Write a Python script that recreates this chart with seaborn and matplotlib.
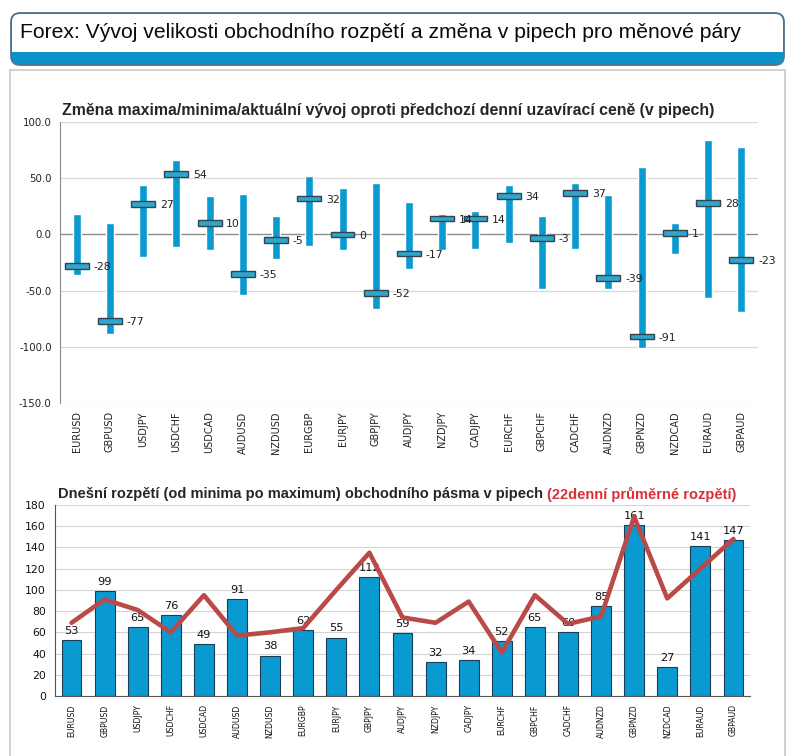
import numpy as np
import pandas as pd
import matplotlib.pyplot as plt
import seaborn as sns
from matplotlib.patches import FancyBboxPatch, Rectangle

# currency pairs
pairs = ['EURUSD', 'GBPUSD', 'USDJPY', 'USDCHF', 'USDCAD', 'AUDUSD', 'NZDUSD',
         'EURGBP', 'EURJPY', 'GBPJPY', 'AUDJPY', 'NZDJPY', 'CADJPY', 'EURCHF',
         'GBPCHF', 'CADCHF', 'AUDNZD', 'GBPNZD', 'NZDCAD', 'EURAUD', 'GBPAUD']

# change vs previous close (pips): high / low / current
high = [18, 10, 44, 66, 34, 36, 16, 52, 41, 46, 29, 18, 21, 44, 16, 46, 35, 60, 10, 84, 78]
low = [-36, -89, -20, -11, -14, -54, -22, -10, -14, -66, -31, -14, -13, -8, -49, -13, -49, -101, -17, -57, -69]
current = [-28, -77, 27, 54, 10, -35, -5, 32, 0, -52, -17, 14, 14, 34, -3, 37, -39, -91, 1, 28, -23]

# today's range and 22-day average range (pips)
day_range = [53, 99, 65, 76, 49, 91, 38, 62, 55, 112, 59, 32, 34, 52, 65, 60, 85, 161, 27, 141, 147]
avg22 = [69, 91, 81, 60, 95, 57, 60, 64, 100, 135, 74, 69, 89, 41, 95, 68, 75, 169, 92, 120, 148]

sns.set_style('white')
plt.rcParams['font.family'] = ['DejaVu Sans']

W, H = 795, 756
fig = plt.figure(figsize=(W / 100, H / 100), dpi=100)
fig.set_facecolor('white')

# background decoration in pixel coords
bg = fig.add_axes([0, 0, 1, 1])
bg.set_xlim(0, W)
bg.set_ylim(H, 0)
bg.axis('off')
bg.add_patch(Rectangle((10, 70), 775, 700, facecolor='white', edgecolor='#C9C9C9', lw=1.2))
bg.add_patch(FancyBboxPatch((11, 13), 773, 52, boxstyle='round,pad=0,rounding_size=9',
                            facecolor='#0A93CB', edgecolor='#4F7394', lw=1.3))
bg.add_patch(FancyBboxPatch((12, 14), 771, 30, boxstyle='round,pad=0,rounding_size=8',
                            facecolor='white', edgecolor='none'))
bg.add_patch(Rectangle((12, 28), 771, 24, facecolor='white', edgecolor='none'))
bg.text(20, 33, 'Forex: Vývoj velikosti obchodního rozpětí a změna v pipech pro měnové páry',
        fontsize=15.2, family='Liberation Sans', va='center', ha='left', color='#0A0A0A')

blue = '#0A9AD2'
x = np.arange(len(pairs))

# ---- top chart: floating range bars
ax = fig.add_axes([60 / W, 1 - 403 / H, 698 / W, (403 - 122) / H])
ax.set_facecolor('none')
rng_df = pd.DataFrame({'pair': pairs, 'high': high, 'low': low, 'current': current})
ax.bar(x, rng_df['high'] - rng_df['low'], bottom=rng_df['low'], width=0.24, color=blue, zorder=2)
ax.bar(x, 5.0, bottom=rng_df['current'] - 2.5, width=0.72, color='#2FA6CC',
       edgecolor='#33444D', lw=1.0, zorder=3)
for i, c in enumerate(current):
    ax.text(i + 0.5, c - 1, str(c), ha='left', va='center', fontsize=7.8, color='#222222', zorder=5)

ax.set_xlim(-0.5, len(pairs) - 0.5)
ax.set_ylim(-150, 100)
ax.set_yticks(np.arange(-150, 101, 50))
ax.set_yticklabels([f'{v:.1f}' for v in np.arange(-150, 101, 50)], fontsize=7.4, color='#222222')
ax.set_xticks(x)
ax.set_xticklabels(pairs, rotation=90, fontsize=7, color='#222222')
ax.tick_params(axis='both', length=0, pad=6)
for v in [-150, -100, -50, 50, 100]:
    ax.axhline(v, color='#D9D9D9', lw=0.9, zorder=1)
ax.axhline(0, color='#8C8C8C', lw=1.0, zorder=1)
for s in ['top', 'right', 'bottom']:
    ax.spines[s].set_visible(False)
ax.spines['left'].set_color('#8C8C8C')
bg.text(62, 111, 'Změna maxima/minima/aktuální vývoj oproti předchozí denní uzavírací ceně (v pipech)',
        fontsize=11.4, fontweight='bold', family='Liberation Sans', va='center', ha='left')

# ---- bottom chart: today's range bars + 22-day average line
ax2 = fig.add_axes([55 / W, 1 - 696 / H, 695 / W, (696 - 505) / H])
ax2.set_facecolor('none')
df = pd.DataFrame({'pair': pairs, 'range': day_range, 'avg': avg22})
sns.barplot(data=df, x='pair', y='range', color=blue, saturation=1, width=0.6,
            edgecolor='#1B3D55', linewidth=0.8, ax=ax2, zorder=2)
for i, v in enumerate(day_range):
    ax2.text(i, v + 4, str(v), ha='center', va='bottom', fontsize=8.2, color='#111111', zorder=4)
sns.lineplot(x=x, y=df['avg'], color='#B94A48', lw=3.3, sort=False, ax=ax2, zorder=5)

ax2.set_xlim(-0.5, len(pairs) - 0.5)
ax2.set_ylim(0, 180)
ax2.set_yticks(np.arange(0, 181, 20))
ax2.tick_params(axis='y', labelsize=7.8, length=3, color='#555555', labelcolor='#111111')
ax2.set_xticks(x)
ax2.set_xticklabels(pairs, rotation=90, fontsize=5.6, color='#111111')
ax2.set_xticks(np.arange(-0.5, len(pairs), 1), minor=True)
ax2.tick_params(axis='x', which='major', length=0, pad=6)
ax2.tick_params(axis='x', which='minor', length=4, color='#555555')
ax2.set_xlabel('')
ax2.set_ylabel('')
ax2.yaxis.grid(True, color='#D4D4D4', lw=0.8)
ax2.set_axisbelow(True)
for s in ['top', 'right']:
    ax2.spines[s].set_visible(False)
ax2.spines['left'].set_color('#555555')
ax2.spines['bottom'].set_color('#555555')

t1 = bg.text(58, 494, 'Dnešní rozpětí (od minima po maximum) obchodního pásma v pipech ',
             fontsize=10.5, fontweight='bold', family='Liberation Sans', va='center', ha='left')
fig.canvas.draw()
bb = t1.get_window_extent(renderer=fig.canvas.get_renderer())
bg.text(bb.x1, 494, '(22denní průměrné rozpětí)', fontsize=10.5, fontweight='bold',
        family='Liberation Sans', va='center', ha='left', color='#D9303A')

plt.savefig('out.png', dpi=100)
